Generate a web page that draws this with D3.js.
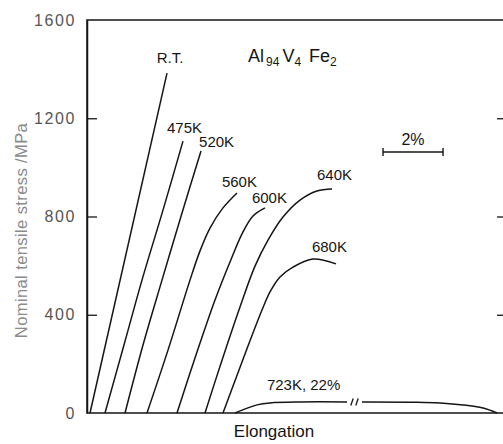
<!DOCTYPE html>
<html><head><meta charset="utf-8">
<script src="https://cdn.jsdelivr.net/npm/d3@7/dist/d3.min.js"></script>
<style>
body{margin:0;background:#fff;}
svg{display:block;font-family:"Liberation Sans",Arial,Helvetica,sans-serif;}
</style></head>
<body>
<svg id="c" width="503" height="444"></svg>
<script>
// Data: strain (%) vs nominal tensile stress (MPa)
const curveNames = ["R.T.","475K","520K","560K","600K","640K","680K","723K, 22%"];
const rtStrain  = [0.1, 2.667];
const rtStress  = [0, 1384];
const k475Strain = [0.6, 1.233, 1.833, 2.533, 3.2];
const k475Stress = [0, 277, 541, 826, 1107];
const k520Strain = [1.267, 1.867, 2.5, 3.167, 3.8];
const k520Stress = [0, 277, 541, 814, 1067];
const k560Strain = [2.0, 2.7, 3.433, 3.767, 4.1, 4.533, 5.0];
const k560Stress = [0, 256, 541, 660, 753, 835, 896];
const k600Strain = [3.0, 3.633, 4.267, 4.767, 5.2, 5.533, 5.933];
const k600Stress = [0, 236, 460, 615, 737, 802, 835];
const k640Strain = [3.933, 4.5, 5.1, 5.6, 6.033, 6.533, 7.1, 7.667, 8.167];
const k640Stress = [0, 215, 432, 598, 704, 798, 867, 904, 912];
const k680Strain = [4.533, 5.167, 5.833, 6.1, 6.433, 6.867, 7.533, 8.3];
const k680Stress = [0, 208, 419, 493, 554, 594, 627, 607];
const k723StrainA = [4.933, 5.3, 5.667, 6.1, 7.1, 8.667];
const k723StressA = [0, 18, 33, 41, 45, 45];
const k723StrainB = [9.167, 11.0, 11.767, 12.533, 13.2, 13.667];
const k723StressB = [45, 44, 41, 33, 20, 0];
const labelStrain = [2.77, 3.25, 4.32, 5.08, 6.08, 8.25, 8.08, 7.22];
const labelStress = [1425, 1140, 1083, 920, 855, 948, 655, 94];
const yTicks = [0, 400, 800, 1200, 1600];
const scaleBar = [9.867, 11.867]; // 2 % elongation bar

const L = 87, R = 504, T = 20, B = 413;
const svg = d3.select("#c");
const x = d3.scaleLinear().domain([0, 13.9]).range([L, R]);
const y = d3.scaleLinear().domain([0, 1600]).range([B, T]);

const ink = "#151515";

// frame
svg.append("path")
  .attr("d", `M${R},${T}H${L}V${B}H${R}`)
  .attr("fill","none").attr("stroke",ink).attr("stroke-width",1.5);

// left axis
const ya = svg.append("g").attr("transform",`translate(${L},0)`)
  .call(d3.axisLeft(y).tickValues(yTicks).tickFormat(d3.format("d"))
    .tickSizeInner(-10).tickSizeOuter(0).tickPadding(11));
ya.select(".domain").attr("stroke",ink).attr("stroke-width",1.5);
ya.selectAll(".tick line").attr("stroke",ink).attr("stroke-width",1.3)
  .attr("display",d => (d===0||d===1600)?"none":null);
ya.selectAll(".tick text").attr("font-size",16).attr("fill","#555")
  .attr("letter-spacing","1.6px").attr("font-family","'Liberation Sans',Arial,sans-serif");

// right axis ticks
const ra = svg.append("g").attr("transform",`translate(${R},0)`)
  .call(d3.axisRight(y).tickValues([400,800,1200]).tickSizeInner(-7).tickSizeOuter(0).tickFormat(""));
ra.select(".domain").attr("stroke",ink).attr("stroke-width",1.5);
ra.selectAll(".tick line").attr("stroke",ink).attr("stroke-width",1.3);

// y title
svg.append("text")
  .attr("transform",`translate(27,${(T+B)/2+14}) rotate(-90)`)
  .attr("text-anchor","middle").attr("font-size",16.5).attr("fill","#8a8a8a")
  .attr("letter-spacing","0.4px")
  .text("Nominal tensile stress /MPa");

// x title
svg.append("text").attr("x",274).attr("y",437).attr("text-anchor","middle")
  .attr("font-size",17).attr("fill",ink).text("Elongation");

// curves
const line = d3.line().x(d=>x(d[0])).y(d=>y(d[1])).curve(d3.curveCatmullRom.alpha(0.5));
const zip = (a,b)=>a.map((v,i)=>[v,b[i]]);
const series = [
  zip(rtStrain, rtStress), zip(k475Strain,k475Stress), zip(k520Strain,k520Stress),
  zip(k560Strain,k560Stress), zip(k600Strain,k600Stress), zip(k640Strain,k640Stress),
  zip(k680Strain,k680Stress), zip(k723StrainA,k723StressA), zip(k723StrainB,k723StressB)
];
svg.append("g").selectAll("path").data(series).join("path")
  .attr("d",line).attr("fill","none").attr("stroke",ink).attr("stroke-width",1.5);

// break mark on 723K curve
const bx = (k723StrainA[k723StrainA.length-1] + k723StrainB[0]) / 2;
const by = y(k723StressA[k723StressA.length-1]);
[-2.5, 2.5].forEach(o=>{
  svg.append("line").attr("x1",x(bx)+o-1.2).attr("y1",by+3.5)
    .attr("x2",x(bx)+o+1.2).attr("y2",by-3.5)
    .attr("stroke",ink).attr("stroke-width",1.3);
});

// curve labels
svg.append("g").selectAll("text").data(curveNames).join("text")
  .attr("x",(d,i)=>x(labelStrain[i])).attr("y",(d,i)=>y(labelStress[i])).attr("text-anchor","middle")
  .attr("font-size",15).attr("fill",ink).text(d=>d);

// composition title
const ttl = svg.append("text").attr("x",248).attr("y",62).attr("font-size",18).attr("fill",ink);
ttl.append("tspan").text("Al");
ttl.append("tspan").attr("dy",4).attr("font-size",12).attr("dx",2).text("94");
ttl.append("tspan").attr("dy",-4).attr("dx",3).text("V");
ttl.append("tspan").attr("dy",4).attr("font-size",12).text("4");
ttl.append("tspan").attr("dy",-4).attr("dx",8).text("Fe");
ttl.append("tspan").attr("dy",4).attr("font-size",12).text("2");

// 2% scale bar
const sy = 152;
svg.append("line").attr("x1",x(scaleBar[0])).attr("x2",x(scaleBar[1])).attr("y1",sy).attr("y2",sy)
  .attr("stroke",ink).attr("stroke-width",1.4);
scaleBar.forEach(v=>svg.append("line").attr("x1",x(v)).attr("x2",x(v)).attr("y1",sy-4).attr("y2",sy+4)
  .attr("stroke",ink).attr("stroke-width",1.4));
svg.append("text").attr("x",(x(scaleBar[0])+x(scaleBar[1]))/2).attr("y",145)
  .attr("text-anchor","middle").attr("font-size",16).attr("fill",ink).text("2%");
</script>
</body></html>
